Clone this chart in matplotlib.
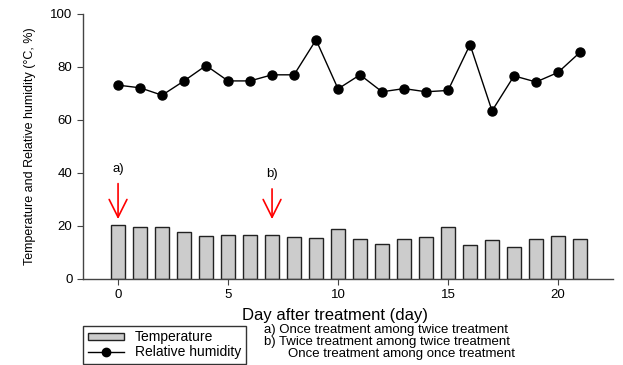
import matplotlib
matplotlib.use("Agg")
from matplotlib import pyplot as plt
from matplotlib.patches import Patch
from matplotlib.lines import Line2D
import numpy as np

plt.rcParams['font.family'] = ['Liberation Sans', 'DejaVu Sans']

days = list(range(22))
temperature = [20.5, 19.4, 19.6, 17.8, 16.0, 16.7, 16.5, 16.7, 15.7, 15.5, 18.7,
               15.0, 13.2, 15.0, 15.7, 19.6, 12.8, 14.6, 12.2, 15.2, 16.0, 15.0]
humidity = [73.1, 72.1, 69.3, 74.7, 80.5, 74.7, 74.7, 77.0, 77.0, 90.2, 71.7,
            77.0, 70.6, 71.8, 70.6, 71.1, 88.4, 63.4, 76.6, 74.3, 77.9, 85.5]
arrow_days = [0, 7]
arrow_labels = ["a)", "b)"]
notes = ["a) Once treatment among twice treatment",
         "b) Twice treatment among twice treatment",
         "Once treatment among once treatment"]

fig = plt.figure(figsize=(6.23, 3.65), dpi=100)
ax = fig.add_axes([0.133, 0.236, 0.851, 0.726])

ax.bar(days, temperature, width=0.62, color='#cccccc', edgecolor='#222222', linewidth=1.0, zorder=2)
ax.plot(days, humidity, color='black', linewidth=1.0, marker='o', markersize=6.5, zorder=3)

# treatment arrows
for d, lab, top in zip(arrow_days, arrow_labels, [41.5, 39.5]):
    ax.annotate("", xy=(d, 21.5), xytext=(d, top - 4.5),
                arrowprops=dict(arrowstyle='->', color='red', lw=1.2, mutation_scale=32))
    ax.text(d, top, lab, ha='center', va='center', fontsize=9.5)

ax.set_xlim(-1.6, 22.5)
ax.set_ylim(0, 100)
ax.set_xticks([0, 5, 10, 15, 20])
ax.set_yticks([0, 20, 40, 60, 80, 100])
ax.spines['top'].set_visible(False)
ax.spines['right'].set_visible(False)
for s in ['left', 'bottom']:
    ax.spines[s].set_color('#444444')
    ax.spines[s].set_linewidth(1.0)
ax.tick_params(direction='out', length=4, labelsize=9.5, color='#444444')

ax.set_xlabel("Day after treatment (day)", fontsize=12)
ax.xaxis.set_label_coords(0.475, -0.11)
ax.set_ylabel("Temperature and Relative humidity (°C, %)", fontsize=9, labelpad=10)

handles = [Patch(facecolor='#cccccc', edgecolor='#222222', label='Temperature'),
           Line2D([0], [0], color='black', marker='o', markersize=6, lw=1, label='Relative humidity')]
fig.legend(handles=handles, loc='upper left', bbox_to_anchor=(0.133, 0.108),
           frameon=True, fancybox=False, edgecolor='black', fontsize=10,
           handlelength=2.6, handleheight=0.5, borderpad=0.35, labelspacing=0.05,
           handletextpad=0.8, borderaxespad=0)
note_x = [0.424, 0.424, 0.462]
note_y = [0.097, 0.063, 0.029]
for n, x, y in zip(notes, note_x, note_y):
    fig.text(x, y, n, fontsize=9.5, va='center', ha='left')

fig.savefig("out.png", dpi=100)
